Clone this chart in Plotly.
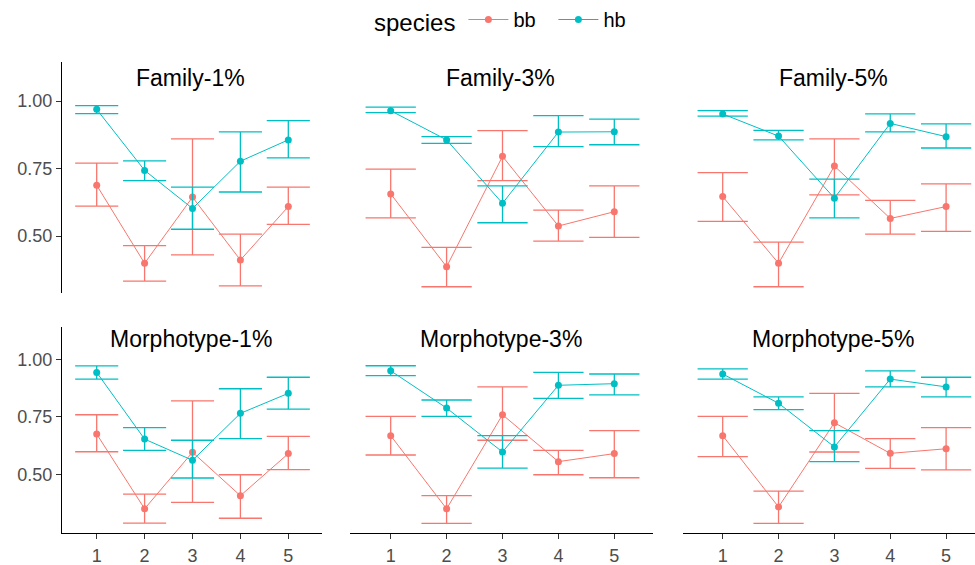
import plotly.graph_objects as go

# ---------------- data ----------------
x_vals = [1, 2, 3, 4, 5]
panel_titles = ["Family-1%", "Family-3%", "Family-5%",
                "Morphotype-1%", "Morphotype-3%", "Morphotype-5%"]
species = ["bb", "hb"]
x_tick_labels = ["1", "2", "3", "4", "5"]
y_tick_vals = [0.50, 0.75, 1.00]
y_tick_labels = ["0.50", "0.75", "1.00"]

bb_mean = [
    [0.688, 0.399, 0.644, 0.411, 0.609],
    [0.656, 0.386, 0.795, 0.537, 0.590],
    [0.646, 0.399, 0.759, 0.565, 0.609],
    [0.675, 0.350, 0.596, 0.407, 0.590],
    [0.668, 0.350, 0.759, 0.555, 0.590],
    [0.668, 0.358, 0.724, 0.591, 0.611],
]
bb_upper = [
    [0.770, 0.464, 0.860, 0.507, 0.681],
    [0.748, 0.458, 0.890, 0.596, 0.686],
    [0.735, 0.477, 0.860, 0.632, 0.693],
    [0.759, 0.414, 0.819, 0.498, 0.665],
    [0.752, 0.407, 0.880, 0.604, 0.690],
    [0.752, 0.427, 0.852, 0.655, 0.703],
]
bb_lower = [
    [0.611, 0.333, 0.430, 0.315, 0.543],
    [0.567, 0.312, 0.705, 0.481, 0.495],
    [0.554, 0.312, 0.652, 0.507, 0.517],
    [0.598, 0.288, 0.378, 0.309, 0.520],
    [0.584, 0.287, 0.648, 0.498, 0.485],
    [0.577, 0.287, 0.597, 0.526, 0.519],
]
hb_mean = [
    [0.969, 0.743, 0.602, 0.777, 0.856],
    [0.964, 0.856, 0.621, 0.885, 0.886],
    [0.952, 0.870, 0.640, 0.917, 0.868],
    [0.943, 0.653, 0.561, 0.765, 0.852],
    [0.950, 0.788, 0.597, 0.887, 0.894],
    [0.936, 0.809, 0.619, 0.914, 0.880],
]
hb_upper = [
    [0.983, 0.778, 0.681, 0.886, 0.927],
    [0.977, 0.868, 0.686, 0.946, 0.933],
    [0.964, 0.891, 0.711, 0.952, 0.915],
    [0.971, 0.703, 0.648, 0.872, 0.922],
    [0.972, 0.823, 0.668, 0.943, 0.936],
    [0.958, 0.837, 0.690, 0.950, 0.922],
]
hb_lower = [
    [0.953, 0.705, 0.525, 0.663, 0.789],
    [0.957, 0.843, 0.549, 0.831, 0.838],
    [0.944, 0.856, 0.567, 0.886, 0.826],
    [0.914, 0.604, 0.484, 0.655, 0.783],
    [0.929, 0.752, 0.527, 0.830, 0.845],
    [0.914, 0.781, 0.555, 0.880, 0.837],
]

colors = {"bb": "#F8766D", "hb": "#00BFC4"}

# ---------------- layout geometry ----------------
W, H = 975, 565
# column pixel extents, pixel of x=1 and pixels per unit
cols = [(62.0, 321.7, 96.7, 47.9), (350.0, 653.0, 390.7, 55.9), (683.3, 975.0, 722.7, 55.85)]
# row pixel extents (top, bottom), pixel of y=1.00 and pixels per unit
rows = [(62.0, 293.3, 101.0, 270.0), (326.7, 532.7, 359.3, 230.0)]
title_x_px = [190.5, 500.5, 833.0]
title_y_px = [78.0, 338.5]

TXT = "Liberation Sans, Arial, sans-serif"

fig = go.Figure()
series = {"bb": (bb_mean, bb_lower, bb_upper), "hb": (hb_mean, hb_lower, hb_upper)}

for p in range(6):
    r, c = divmod(p, 3)
    idx = p + 1
    xa = "x" if idx == 1 else f"x{idx}"
    ya = "y" if idx == 1 else f"y{idx}"
    cap_half = 0.45 * cols[c][3]
    for sp in species:
        m, lo, hi = series[sp]
        fig.add_trace(go.Scatter(
            x=x_vals, y=m[p], xaxis=xa, yaxis=ya,
            mode="lines+markers", name=sp, legendgroup=sp,
            showlegend=(p == 0),
            line=dict(color=colors[sp], width=1),
            marker=dict(color=colors[sp], size=7),
            error_y=dict(type="data", symmetric=False,
                         array=[h - v for h, v in zip(hi[p], m[p])],
                         arrayminus=[v - l for v, l in zip(m[p], lo[p])],
                         color=colors[sp], thickness=1.3, width=cap_half),
            cliponaxis=False,
        ))

    x0, x1, xref, xppu = cols[c]
    y0, y1, yref, yppu = rows[r]
    xrange = [1 + (x0 - xref) / xppu, 1 + (x1 - xref) / xppu]
    yrange = [1 - (y1 - yref) / yppu, 1 + (yref - y0) / yppu]
    show_x = (r == 1)
    show_y = (c == 0)
    xkey = "xaxis" if idx == 1 else f"xaxis{idx}"
    ykey = "yaxis" if idx == 1 else f"yaxis{idx}"
    fig.layout[xkey] = dict(
        domain=[x0 / W, x1 / W], range=xrange, anchor=ya,
        showgrid=False, zeroline=False,
        showline=show_x, linecolor="black", linewidth=1.1,
        ticks="outside" if show_x else "", ticklen=5, tickwidth=1.1, tickcolor="#333333",
        showticklabels=show_x, tickvals=x_vals, ticktext=x_tick_labels,
        tickfont=dict(family=TXT, size=18, color="#4D4D4D"),
        ticklabelstandoff=2,
        fixedrange=True,
    )
    fig.layout[ykey] = dict(
        domain=[1 - y1 / H, 1 - y0 / H], range=yrange, anchor=xa,
        showgrid=False, zeroline=False,
        showline=show_y, linecolor="black", linewidth=1.1,
        ticks="outside" if show_y else "", ticklen=5, tickwidth=1.1, tickcolor="#333333",
        showticklabels=show_y, tickvals=y_tick_vals, ticktext=y_tick_labels,
        tickfont=dict(family=TXT, size=18, color="#4D4D4D"),
        fixedrange=True,
    )
    fig.add_annotation(
        text=panel_titles[p], xref="paper", yref="paper",
        x=title_x_px[c] / W, y=1 - title_y_px[r] / H,
        xanchor="center", yanchor="middle", showarrow=False,
        font=dict(family=TXT, size=23, color="black"),
    )

fig.update_layout(
    width=W, height=H,
    margin=dict(l=0, r=0, t=0, b=0),
    paper_bgcolor="white", plot_bgcolor="white",
    showlegend=True,
    legend=dict(
        orientation="h", x=372 / W, y=1.0, xanchor="left", yanchor="top",
        title=dict(text="species", font=dict(family=TXT, size=24, color="black")),
        font=dict(family=TXT, size=20, color="black"),
        bgcolor="rgba(0,0,0,0)", itemwidth=40,
        entrywidth=35, entrywidthmode="pixels",
    ),
)

fig.write_html("out.html")
